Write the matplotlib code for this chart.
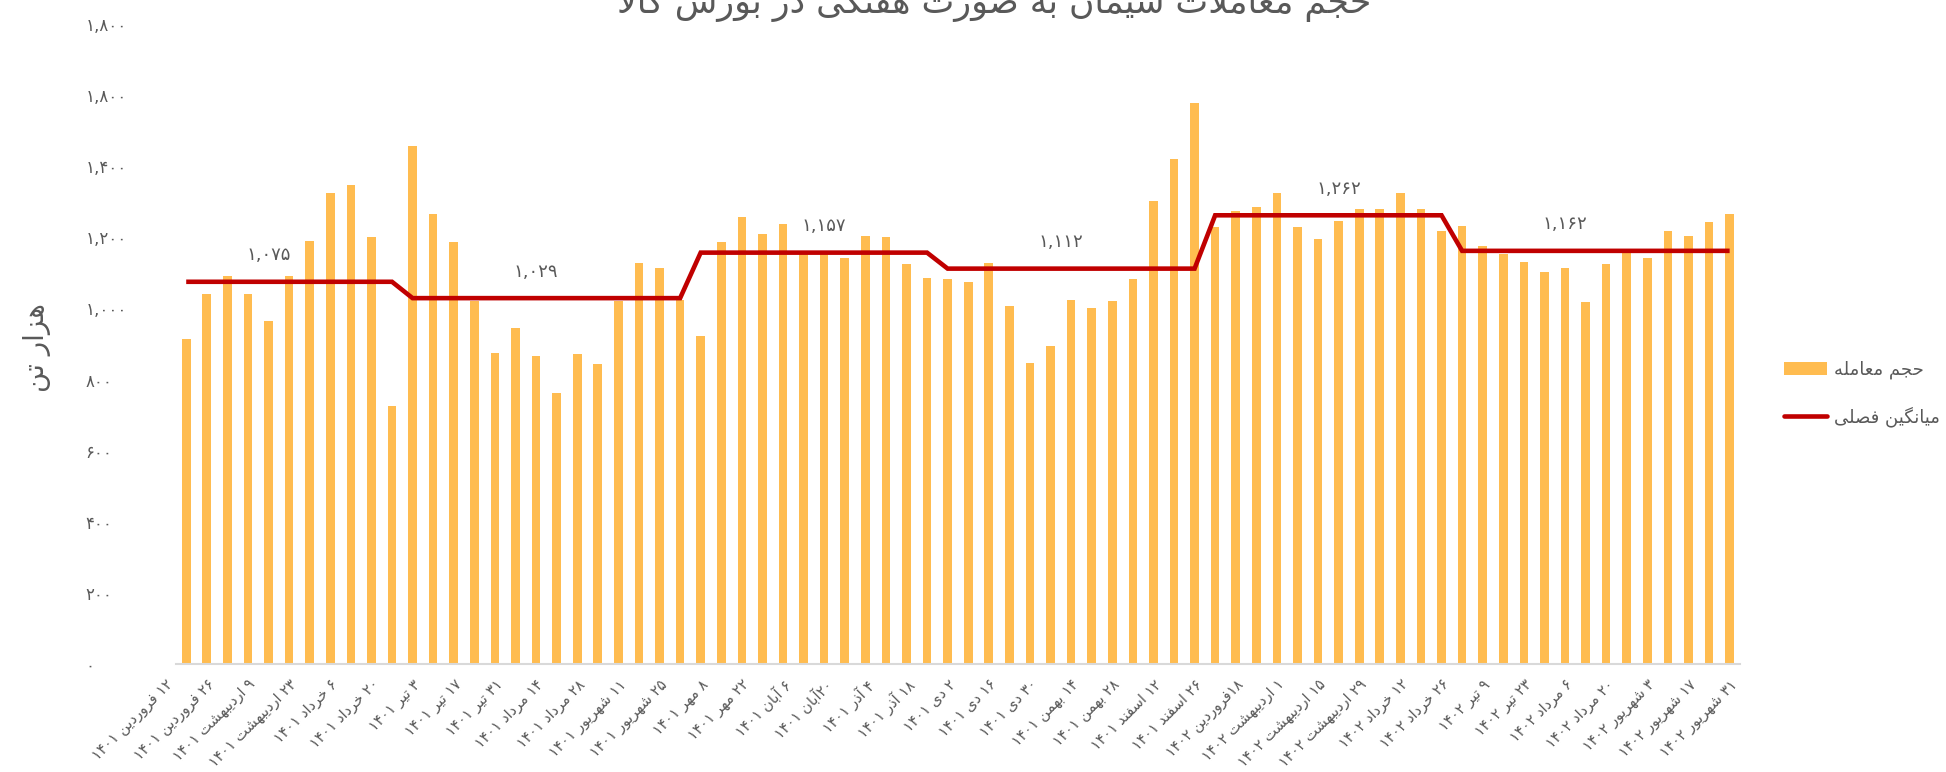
import re
import numpy as np
import matplotlib
matplotlib.use("Agg")
import matplotlib.pyplot as plt
from matplotlib.lines import Line2D
from matplotlib.patches import Patch

# ===== Data =====
TITLE = "حجم معاملات سیمان به صورت هفتگی در بورس کالا"
Y_LABEL = "هزار تن"
BAR_NAME = "حجم معامله"
LINE_NAME = "میانگین فصلی"

# weekly volume (thousand tonnes), first week (Nowruz) had no trading
weekly_volume = [
    0,
    913, 1040, 1091, 1040, 964, 1091, 1190, 1326, 1346, 1200, 725,
    1458, 1265, 1186, 1021, 876, 946, 866, 763, 871, 843, 1021, 1129, 1115, 1025,
    922, 1186, 1256, 1209, 1237, 1153, 1160, 1143, 1205, 1200, 1125, 1087,
    1082, 1073, 1129, 1007, 846, 894, 1025, 1002, 1021, 1082, 1303, 1420, 1577,
    1228, 1275, 1284, 1326, 1228, 1195, 1246, 1280, 1280, 1326, 1280, 1219,
    1233, 1176, 1153, 1130, 1102, 1115, 1017, 1125, 1165, 1143, 1219, 1205, 1242, 1265,
]

# seasonal averages and the week index where each season starts
season_avg = [1075, 1029, 1157, 1112, 1262, 1162]
season_start = [1, 12, 26, 38, 51, 63]
season_label_week = [5, 18, 32, 43.5, 57, 68]

# labels for every second week
week_labels = [
    "۱۲ فروردین ۱۴۰۱", "۲۶ فروردین ۱۴۰۱", "۹ اردیبهشت ۱۴۰۱", "۲۳ اردیبهشت ۱۴۰۱",
    "۶ خرداد ۱۴۰۱", "۲۰ خرداد ۱۴۰۱", "۳ تیر ۱۴۰۱", "۱۷ تیر ۱۴۰۱", "۳۱ تیر ۱۴۰۱",
    "۱۴ مرداد ۱۴۰۱", "۲۸ مرداد ۱۴۰۱", "۱۱ شهریور ۱۴۰۱", "۲۵ شهریور ۱۴۰۱",
    "۸ مهر ۱۴۰۱", "۲۲ مهر ۱۴۰۱", "۶ آبان ۱۴۰۱", "۲۰آبان ۱۴۰۱", "۴ آذر ۱۴۰۱",
    "۱۸ آذر ۱۴۰۱", "۲ دی ۱۴۰۱", "۱۶ دی ۱۴۰۱", "۳۰ دی ۱۴۰۱", "۱۴ بهمن ۱۴۰۱",
    "۲۸ بهمن ۱۴۰۱", "۱۲ اسفند ۱۴۰۱", "۲۶ اسفند ۱۴۰۱", "۱۸فروردین ۱۴۰۲",
    "۱ اردیبهشت ۱۴۰۲", "۱۵ اردیبهشت ۱۴۰۲", "۲۹ اردیبهشت ۱۴۰۲", "۱۲ خرداد ۱۴۰۲",
    "۲۶ خرداد ۱۴۰۲", "۹ تیر ۱۴۰۲", "۲۳ تیر ۱۴۰۲", "۶ مرداد ۱۴۰۲", "۲۰ مرداد ۱۴۰۲",
    "۳ شهریور ۱۴۰۲", "۱۷ شهریور ۱۴۰۲", "۳۱ شهریور ۱۴۰۲",
]

y_ticks = [0, 200, 400, 600, 800, 1000, 1200, 1400, 1600, 1800]
y_tick_labels = ["۰", "۲۰۰", "۴۰۰", "۶۰۰", "۸۰۰", "۱,۰۰۰", "۱,۲۰۰", "۱,۴۰۰", "۱,۸۰۰", "۱,۸۰۰"]

# ===== Style =====
BAR_COLOR = "#FFBC50"
LINE_COLOR = "#C00000"
TEXT_COLOR = "#595959"
AXIS_COLOR = "#D9D9D9"

# ===== Persian shaping (matplotlib has no bidi / joining) =====
FORMS = {
    "ا": ("\uFE8D", "\uFE8E"), "آ": ("\uFE81", "\uFE82"),
    "ب": ("\uFE8F", "\uFE90", "\uFE91", "\uFE92"), "پ": ("\uFB56", "\uFB57", "\uFB58", "\uFB59"),
    "ت": ("\uFE95", "\uFE96", "\uFE97", "\uFE98"), "ث": ("\uFE99", "\uFE9A", "\uFE9B", "\uFE9C"),
    "ج": ("\uFE9D", "\uFE9E", "\uFE9F", "\uFEA0"), "چ": ("\uFB7A", "\uFB7B", "\uFB7C", "\uFB7D"),
    "ح": ("\uFEA1", "\uFEA2", "\uFEA3", "\uFEA4"), "خ": ("\uFEA5", "\uFEA6", "\uFEA7", "\uFEA8"),
    "د": ("\uFEA9", "\uFEAA"), "ذ": ("\uFEAB", "\uFEAC"), "ر": ("\uFEAD", "\uFEAE"),
    "ز": ("\uFEAF", "\uFEB0"), "ژ": ("\uFB8A", "\uFB8B"),
    "س": ("\uFEB1", "\uFEB2", "\uFEB3", "\uFEB4"), "ش": ("\uFEB5", "\uFEB6", "\uFEB7", "\uFEB8"),
    "ص": ("\uFEB9", "\uFEBA", "\uFEBB", "\uFEBC"), "ض": ("\uFEBD", "\uFEBE", "\uFEBF", "\uFEC0"),
    "ط": ("\uFEC1", "\uFEC2", "\uFEC3", "\uFEC4"), "ظ": ("\uFEC5", "\uFEC6", "\uFEC7", "\uFEC8"),
    "ع": ("\uFEC9", "\uFECA", "\uFECB", "\uFECC"), "غ": ("\uFECD", "\uFECE", "\uFECF", "\uFED0"),
    "ف": ("\uFED1", "\uFED2", "\uFED3", "\uFED4"), "ق": ("\uFED5", "\uFED6", "\uFED7", "\uFED8"),
    "ک": ("\uFB8E", "\uFB8F", "\uFB90", "\uFB91"), "گ": ("\uFB92", "\uFB93", "\uFB94", "\uFB95"),
    "ل": ("\uFEDD", "\uFEDE", "\uFEDF", "\uFEE0"), "م": ("\uFEE1", "\uFEE2", "\uFEE3", "\uFEE4"),
    "ن": ("\uFEE5", "\uFEE6", "\uFEE7", "\uFEE8"), "ه": ("\uFEE9", "\uFEEA", "\uFEEB", "\uFEEC"),
    "و": ("\uFEED", "\uFEEE"), "ی": ("\uFBFC", "\uFBFD", "\uFBFE", "\uFBFF"),
}
LAM_ALEF = {"ا": ("\uFEFB", "\uFEFC"), "آ": ("\uFEF5", "\uFEF6")}


def shape(s):
    out = []
    i = 0
    while i < len(s):
        ch = s[i]
        if ch not in FORMS:
            out.append(ch)
            i += 1
            continue
        prev = s[i - 1] if i > 0 else ""
        joins_prev = prev in FORMS and len(FORMS[prev]) == 4
        nxt = s[i + 1] if i + 1 < len(s) else ""
        if ch == "ل" and nxt in LAM_ALEF:
            out.append(LAM_ALEF[nxt][1] if joins_prev else LAM_ALEF[nxt][0])
            i += 2
            continue
        f = FORMS[ch]
        joins_next = len(f) == 4 and nxt in FORMS
        if joins_prev and joins_next:
            out.append(f[3])
        elif joins_prev:
            out.append(f[1])
        elif joins_next:
            out.append(f[2])
        else:
            out.append(f[0])
        i += 1
    return "".join(out)


def fa(s):
    """Shape and put into visual (left to right) order."""
    runs = re.findall(r"[0-9۰-۹,]+|[^0-9۰-۹,]+", shape(s))
    parts = []
    for r in reversed(runs):
        parts.append(r if re.match(r"[0-9۰-۹,]", r) else r[::-1])
    return "".join(parts)


def fa_num(n):
    return f"{n:,}".translate(str.maketrans("0123456789", "۰۱۲۳۴۵۶۷۸۹"))


def main():
    plt.rcParams["font.family"] = ["DejaVu Sans"]

    weeks = np.arange(len(weekly_volume))
    values = np.array(weekly_volume, dtype=float)

    # seasonal average for each week
    avg_line = np.full(len(weekly_volume), np.nan)
    bounds = season_start + [len(weekly_volume)]
    for k, avg in enumerate(season_avg):
        avg_line[bounds[k]:bounds[k + 1]] = avg

    fig = plt.figure(figsize=(19.46, 7.72), dpi=100)
    ax = fig.add_axes([0.0904, 0.1399, 0.8037, 0.829])

    ax.bar(weeks, values, width=0.42, color=BAR_COLOR, zorder=2)
    ax.plot(weeks, avg_line, color=LINE_COLOR, linewidth=3.3, zorder=3,
            solid_capstyle="butt", solid_joinstyle="miter")

    for k, avg in enumerate(season_avg):
        ax.annotate(fa_num(avg), xy=(season_label_week[k], avg), xytext=(0, 19),
                    textcoords="offset points", ha="center", va="center",
                    fontsize=13, color=TEXT_COLOR)

    ax.set_xlim(0.5, len(weekly_volume) - 0.5)
    ax.set_ylim(0, 1800)

    ax.set_yticks(y_ticks)
    ax.set_yticklabels(y_tick_labels)
    ax.tick_params(axis="y", length=0, pad=65, labelsize=12, labelcolor=TEXT_COLOR)
    for lab in ax.get_yticklabels():
        lab.set_horizontalalignment("left")

    ax.set_xticks([])
    for k, lab in enumerate(week_labels):
        ax.text(2 * k, -0.02, fa(lab), transform=ax.get_xaxis_transform(),
                rotation=45, rotation_mode="anchor", ha="right", va="top",
                fontsize=10.5, color=TEXT_COLOR, clip_on=False)

    for side in ["left", "right", "top"]:
        ax.spines[side].set_visible(False)
    ax.spines["bottom"].set_color(AXIS_COLOR)
    ax.spines["bottom"].set_linewidth(1.5)

    fig.text(0.019, 0.55, fa(Y_LABEL), rotation=90, ha="center", va="center",
             fontsize=20, color=TEXT_COLOR)
    fig.text(0.511, 0.997, fa(TITLE), ha="center", va="center",
             fontsize=25, color=TEXT_COLOR)

    handles = [
        Patch(facecolor=BAR_COLOR, edgecolor="none"),
        Line2D([0], [0], color=LINE_COLOR, linewidth=3.3, solid_capstyle="round"),
    ]
    fig.legend(handles, [fa(BAR_NAME), fa(LINE_NAME)], loc="center left",
               bbox_to_anchor=(0.912, 0.49), frameon=False, fontsize=13,
               labelcolor=TEXT_COLOR, handlelength=2.4, handletextpad=0.4,
               labelspacing=1.5, borderpad=0)

    fig.savefig("out.png", dpi=100)


if __name__ == "__main__":
    main()
